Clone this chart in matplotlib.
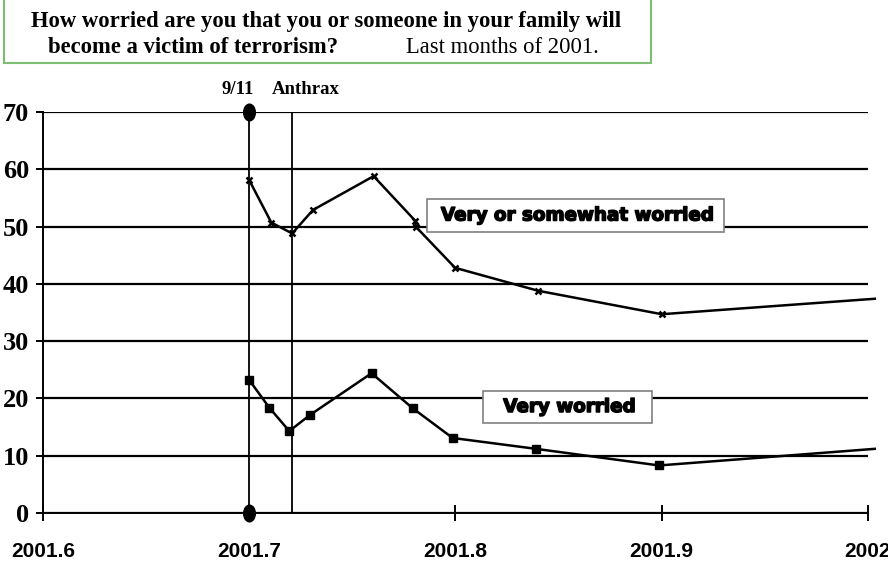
import matplotlib
matplotlib.use("Agg")
import matplotlib.pyplot as plt
from matplotlib.patches import Rectangle
from matplotlib.path import Path
from matplotlib.markers import MarkerStyle
from matplotlib.transforms import Affine2D
import matplotlib.patheffects as pe

# ---- data ----
upper_x = [2001.7, 2001.7107, 2001.7208, 2001.7309, 2001.7603, 2001.7805, 2001.7807,
           2001.7998, 2001.84, 2001.9, 2002.0033]
upper_y = [58.1, 50.7, 48.8, 52.9, 58.8, 51.0, 50.0, 42.8, 38.8, 34.7, 37.4]
lower_x = [2001.7, 2001.7097, 2001.7194, 2001.7294, 2001.7593, 2001.7792, 2001.7986,
           2001.839, 2001.8987, 2002.0033]
lower_y = [23.2, 18.4, 14.3, 17.1, 24.4, 18.3, 13.1, 11.2, 8.3, 11.2]
event_x = [2001.7, 2001.7208]
event_labels = ["9/11", "Anthrax"]
x_ticks = [2001.6, 2001.7, 2001.8, 2001.9, 2002.0]
x_tick_labels = ["2001.6", "2001.7", "2001.8", "2001.9", "2002"]
y_ticks = [0, 10, 20, 30, 40, 50, 60, 70]
series_labels = ["Very or somewhat worried", "Very worried"]
title_line1 = "How worried are you that you or someone in your family will"
title_line2_bold = "become a victim of terrorism?"
title_line2_reg = "Last months of 2001."

W, H = 888, 565
fig = plt.figure(figsize=(W / 100, H / 100), dpi=100)

def fx(px):
    return px / W

def fy(py):
    return 1 - py / H

ax = fig.add_axes([fx(43), fy(513), fx(868) - fx(43), fy(112) - fy(513)])
ax.set_xlim(2001.6, 2002.0)
ax.set_ylim(0, 70)

for s in ["top", "right"]:
    ax.spines[s].set_visible(False)
for s in ["left", "bottom"]:
    ax.spines[s].set_linewidth(1.4)
    ax.spines[s].set_color("black")

ax.set_yticks(y_ticks)
ax.set_yticklabels([str(v) for v in y_ticks], fontfamily="Liberation Serif",
                   fontweight="bold", fontsize=19)
ax.set_xticks(x_ticks)
ax.set_xticklabels(x_tick_labels, fontfamily=["Liberation Sans Narrow", "Liberation Sans"],
                   fontweight="bold", fontsize=15)
ax.tick_params(axis="y", direction="out", length=5, width=1.4, pad=5)
ax.tick_params(axis="x", direction="inout", length=12, width=1.4, pad=15)

ax.yaxis.grid(True, color="black", linewidth=1.6)
ax.set_axisbelow(True)

# event lines
for ex in event_x:
    ax.plot([ex, ex], [0, 70], color="black", linewidth=1.3, zorder=2)

ell = Path.unit_circle().transformed(Affine2D().scale(0.7, 1.0))
ax.plot([event_x[0], event_x[0]], [0, 70], linestyle="none",
        marker=MarkerStyle(ell), markersize=12, color="black", clip_on=False, zorder=5)

ax.text(event_x[0] - 0.0055, 74.0, event_labels[0], fontfamily="Liberation Serif",
        fontweight="bold", fontsize=13.5, ha="center", va="center")
ax.text(event_x[1] + 0.0065, 74.0, event_labels[1], fontfamily="Liberation Serif",
        fontweight="bold", fontsize=13.5, ha="center", va="center")

# series
ax.plot(upper_x, upper_y, color="black", linewidth=1.8, marker="x", markersize=5,
        markeredgewidth=1.8, markevery=list(range(len(upper_x) - 1)), clip_on=False, zorder=4)
ax.plot(lower_x, lower_y, color="black", linewidth=1.8, marker="s", markersize=6,
        markevery=list(range(len(lower_x) - 1)), clip_on=False, zorder=4)

# series labels in boxes
heavy = [pe.withStroke(linewidth=1.1, foreground="black")]
boxes = [(427, 199, 724, 232), (483, 391, 652, 423)]
for (x0, y0, x1, y1), lab in zip(boxes, series_labels):
    fig.patches.append(Rectangle((fx(x0), fy(y1)), fx(x1) - fx(x0), fy(y0) - fy(y1),
                                 transform=fig.transFigure, facecolor="white",
                                 edgecolor="#808080", linewidth=1.2, zorder=10))
    fig.text(fx((x0 + x1) / 2 + 2), fy((y0 + y1) / 2), lab, fontfamily="DejaVu Sans",
             fontweight="bold", fontsize=13.2, ha="center", va="center",
             path_effects=heavy, zorder=11)

# title box
fig.patches.append(Rectangle((fx(4), fy(62.7)), fx(651) - fx(4), fy(-5) - fy(62.7),
                             transform=fig.transFigure, facecolor="white",
                             edgecolor="#7dbf72", linewidth=1.5, zorder=0))
fig.text(fx(326), fy(26.7), title_line1, fontfamily="Liberation Serif", fontweight="bold",
         fontsize=16.3, ha="center", va="baseline")
fig.text(fx(48), fy(52.7), title_line2_bold, fontfamily="Liberation Serif", fontweight="bold",
         fontsize=16.3, ha="left", va="baseline")
fig.text(fx(406), fy(52.7), title_line2_reg, fontfamily="Liberation Serif", fontweight="normal",
         fontsize=16.3, ha="left", va="baseline")

fig.savefig("out.png", dpi=100)
